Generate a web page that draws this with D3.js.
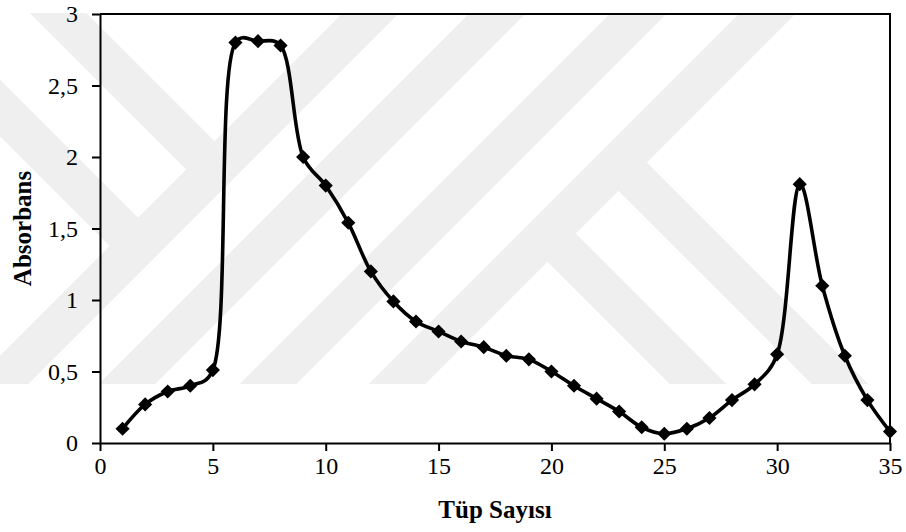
<!DOCTYPE html>
<html lang="tr">
<head>
<meta charset="utf-8">
<title>Absorbans - Tüp Sayısı</title>
<script src="https://cdn.jsdelivr.net/npm/d3@7"></script>
<style>
  body { margin: 0; background: #fff; }
  svg { display: block; }
  .tick text { font-family: "Liberation Serif", "Times New Roman", serif; }
</style>
</head>
<body>
<script>
// data
var tubes = [1, 2, 3, 4, 5, 6, 7, 8, 9, 10, 11, 12, 13, 14, 15, 16, 17, 18,
             19, 20, 21, 22, 23, 24, 25, 26, 27, 28, 29, 30, 31, 32, 33, 34, 35];
var absorbans = [0.10, 0.27, 0.36, 0.40, 0.51, 2.80, 2.81, 2.78, 2.00, 1.80,
                 1.54, 1.20, 0.99, 0.85, 0.78, 0.71, 0.67, 0.61, 0.585, 0.50,
                 0.40, 0.31, 0.22, 0.11, 0.065, 0.10, 0.175, 0.30, 0.41, 0.62,
                 1.81, 1.10, 0.61, 0.30, 0.08];
var xTicks = [0, 5, 10, 15, 20, 25, 30, 35];
var yTicks = [0, 0.5, 1, 1.5, 2, 2.5, 3];

var width = 906, height = 532;
var plotLeft = 100, plotRight = 890, plotTop = 14, plotBottom = 443;

var svg = d3.select("body").append("svg")
  .attr("width", width).attr("height", height);

// faint watermark in the background
svg.append("clipPath").attr("id", "wm")
  .append("rect").attr("x", 0).attr("y", 13).attr("width", width).attr("height", 371);
var wm = svg.append("g").attr("clip-path", "url(#wm)")
  .attr("stroke", "#efefef").attr("stroke-width", 40).attr("fill", "none");
[0, 127, 268, 397].forEach(function (b) {
  // long "/" bands, b = centre at y=384
  wm.append("line").attr("x1", b - 80).attr("y1", 464).attr("x2", b + 450).attr("y2", -66);
});
// short "\" arms
wm.append("line").attr("x1", -80).attr("y1", -125).attr("x2", 214.5).attr("y2", 169.5);
wm.append("line").attr("x1", -80).attr("y1", 28).attr("x2", 138).attr("y2", 246);
wm.append("line").attr("x1", 618.5).attr("y1", 162.5).attr("x2", 1000).attr("y2", 544);
wm.append("line").attr("x1", 547.5).attr("y1", 233.5).attr("x2", 1000).attr("y2", 686);

var x = d3.scaleLinear().domain([0, 35]).range([plotLeft, plotRight]);
var y = d3.scaleLinear().domain([0, 3]).range([plotBottom, plotTop]);

var fmt = function (d) { return String(d).replace(".", ","); };

// frame (top + right)
svg.append("path")
  .attr("d", "M" + plotLeft + "," + plotTop + "H" + plotRight + "V" + plotBottom)
  .attr("fill", "none").attr("stroke", "#000").attr("stroke-width", 2);

var xAxis = svg.append("g")
  .attr("transform", "translate(0," + plotBottom + ")")
  .call(d3.axisBottom(x).tickValues(xTicks).tickSize(8).tickSizeOuter(0).tickPadding(6).tickFormat(fmt));
var yAxis = svg.append("g")
  .attr("transform", "translate(" + plotLeft + ",0)")
  .call(d3.axisLeft(y).tickValues(yTicks).tickSize(8).tickSizeOuter(0).tickPadding(14).tickFormat(fmt));

[xAxis, yAxis].forEach(function (a) {
  a.select(".domain").attr("stroke", "#000").attr("stroke-width", 2);
  a.selectAll(".tick line").attr("stroke", "#000").attr("stroke-width", 2);
  a.selectAll(".tick text").attr("fill", "#000").style("font-size", "24px");
});

var pts = tubes.map(function (t, i) { return [t, absorbans[i]]; });

var line = d3.line()
  .x(function (d) { return x(d[0]); })
  .y(function (d) { return y(d[1]); })
  .curve(d3.curveCatmullRom.alpha(0.4));

svg.append("path")
  .datum(pts)
  .attr("d", line)
  .attr("fill", "none")
  .attr("stroke", "#000")
  .attr("stroke-width", 3.6)
  .attr("stroke-linejoin", "round");

svg.selectAll(".pt")
  .data(pts)
  .enter().append("path")
  .attr("class", "pt")
  .attr("d", d3.symbol(d3.symbolSquare, 100))
  .attr("transform", function (d) {
    return "translate(" + x(d[0]) + "," + y(d[1]) + ") rotate(45)";
  })
  .attr("fill", "#000");

// axis titles
svg.append("text")
  .attr("x", (plotLeft + plotRight) / 2)
  .attr("y", 518)
  .attr("text-anchor", "middle")
  .style("font-family", "'Liberation Serif', 'Times New Roman', serif")
  .style("font-weight", "bold")
  .style("font-size", "25px")
  .text("Tüp Sayısı");

svg.append("text")
  .attr("transform", "translate(31," + (plotTop + plotBottom) / 2 + ") rotate(-90)")
  .attr("text-anchor", "middle")
  .style("font-family", "'Liberation Serif', 'Times New Roman', serif")
  .style("font-weight", "bold")
  .style("font-size", "25px")
  .text("Absorbans");
</script>
</body>
</html>
